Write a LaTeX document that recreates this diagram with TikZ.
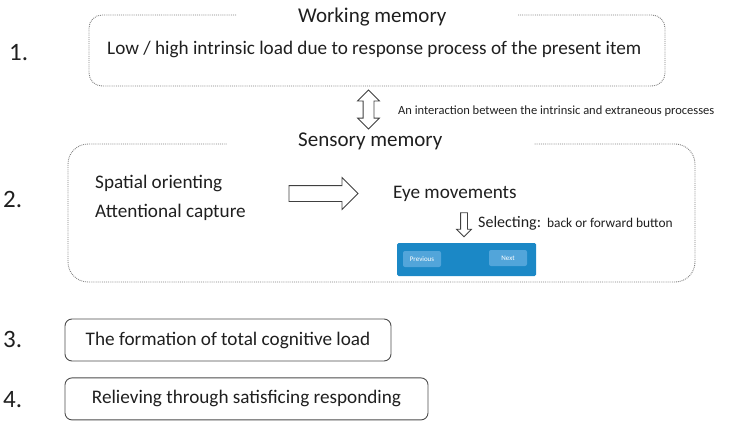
\documentclass[tikz,border=0pt]{standalone}
\usepackage{fontspec}
\setmainfont{Carlito}
\usetikzlibrary{positioning,shapes.arrows}
\definecolor{ink}{HTML}{1F1F1F}
\definecolor{navblue}{HTML}{1B88C6}
\definecolor{btnblue}{HTML}{52A5DA}

\begin{document}
\begin{tikzpicture}[x=1pt, y=-1pt, text=ink,
  memorybox/.style = {draw=black!50, densely dotted, line width=0.9pt, rounded corners=#1, inner sep=0pt},
  stagebox/.style = {draw=black!70, line width=0.9pt, rounded corners=7pt, inner sep=0pt, minimum height=42pt},
  cover/.style = {fill=white, inner sep=0pt, minimum height=4pt},
  memtitle/.style = {inner sep=0pt, font=\fontsize{21}{24}\selectfont},
  itemtext/.style = {inner sep=0pt, font=\fontsize{19.2}{22}\selectfont},
  numtext/.style = {inner sep=0pt, font=\fontsize{25}{28}\selectfont},
  notetext/.style = {inner sep=0pt, font=\fontsize{12.5}{14}\selectfont},
  hollow/.style = {draw=black!75, line width=0.8pt, inner xsep=0pt, inner ysep=#1},
  navbtn/.style = {fill=btnblue, rounded corners=2pt, text=white, inner sep=0pt, minimum width=38pt, minimum height=16pt, font=\fontsize{7}{8}\selectfont}]
\useasboundingbox (0,0) rectangle (741,420);

\node[memorybox=13pt, minimum width=576pt, minimum height=71pt] (wm) at (377,50.5) {};
\node[cover, minimum width=281pt] (wmgap) at (377.5,15) {};
\node[memtitle, anchor=base west] (wmtitle) at (298,23) {Working memory};
\node[itemtext, anchor=base west] (intrinsic) at (107,55) {Low / high intrinsic load due to response process of the present item};
\node[numtext, anchor=base west] (n1) at (9,60) {1.};

\node[hollow=5pt, double arrow, rotate=90, minimum height=39pt, double arrow head extend=5.5pt] (interact) at (368.5,109.5) {};
\node[notetext, anchor=base west] (note) at (398,114) {An interaction between the intrinsic and extraneous processes};

\node[memorybox=20pt, minimum width=627pt, minimum height=138pt] (sm) at (381.5,213) {};
\node[cover, minimum width=307pt] (smgap) at (380.5,144) {};
\node[memtitle, anchor=base west] (smtitle) at (298,146) {Sensory memory};
\node[numtext, anchor=base west] (n2) at (3,207) {2.};
\node[itemtext, anchor=base west] (spatial) at (95,188) {Spatial orienting};
\node[itemtext, anchor=base west] (capture) at (95,217) {Attentional capture};
\node[hollow=7.5pt, single arrow, minimum height=69pt, single arrow head extend=8pt] (toeye) at (319.5,193.5) {};
\node[itemtext, anchor=base west] (eye) at (393,198) {Eye movements};
\node[hollow=3pt, single arrow, rotate=-90, minimum height=24pt, single arrow head extend=4pt] (select) at (464,223) {};
\node[inner sep=0pt, anchor=base west] (selecttext) at (478,227) {\fontsize{16}{18}\selectfont Selecting:\hspace{6pt}\fontsize{13.4}{16}\selectfont back or forward button};

\node[fill=navblue, rounded corners=1.5pt, minimum width=139pt, minimum height=33pt, inner sep=0pt] (navbar) at (466.5,259.5) {};
\node[navbtn] (prev) at (422,259) {Previous};
\node[navbtn] (next) at (508,258) {Next};

\node[stagebox, itemtext, minimum width=326pt] (total) at (228,340) {The formation of total cognitive load};
\node[stagebox, itemtext, minimum width=363pt, below=16pt of total.south west, anchor=north west] (relief) {Relieving through satisficing responding};
\node[numtext, anchor=base west] (n3) at (3,347) {3.};
\node[numtext, anchor=base west] (n4) at (3,407) {4.};
\end{tikzpicture}
\end{document}
